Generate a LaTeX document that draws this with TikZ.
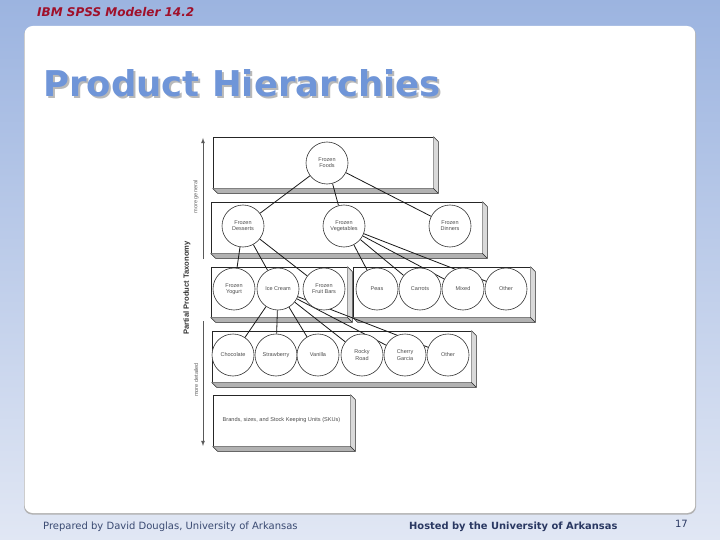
\documentclass[tikz,border=0pt]{standalone}
\usepackage{fontspec}
\setsansfont{Liberation Sans}
\newfontfamily\slidefont{DejaVu Sans}
\usetikzlibrary{positioning,calc}

\definecolor{bgtop}{HTML}{9CB4E0}
\definecolor{bgbot}{HTML}{E1E7F4}
\definecolor{titleblue}{HTML}{6F95D8}
\definecolor{hdrred}{HTML}{A0102A}
\definecolor{footblue}{HTML}{3A4A72}
\definecolor{hostblue}{HTML}{2A3862}

\pgfdeclarelayer{back}
\pgfdeclarelayer{mid}
\pgfsetlayers{back,mid,main}

\tikzset{
  slab/.style={draw=black!85, fill=white, line width=0.7pt, inner sep=0pt},
  cat/.style={circle, draw=black!80, fill=white, line width=0.6pt, minimum size=42pt,
    inner sep=0pt, align=center, text=black!70,
    font=\sffamily\fontsize{5.5}{6.2}\selectfont},
  link/.style={draw=black!90, line width=0.8pt},
  axislabel/.style={rotate=90, text=black!60, font=\sffamily\fontsize{5.6}{6}\selectfont},
}

\begin{document}
\begin{tikzpicture}[x=1pt,y=1pt]
\useasboundingbox (0,0) rectangle (720,-540);

% slide
\begin{pgfonlayer}{back}
\shade[top color=bgtop, bottom color=bgbot] (0,0) rectangle (720,-540);
\fill[gray!60, rounded corners=8pt] (24,-27) rectangle (696,-514.5);
\fill[white, rounded corners=8pt] (24.6,-26) rectangle (695.2,-513);
\end{pgfonlayer}

\node[anchor=base west, inner sep=0, text=hdrred,
  font=\slidefont\bfseries\itshape\fontsize{12}{14}\selectfont] (header) at (37,-17) {IBM SPSS Modeler 14.2};
\node[anchor=base west, inner sep=0, text=gray!55,
  font=\slidefont\bfseries\fontsize{35.5}{40}\selectfont] (titleShadow) at (45,-99) {Product Hierarchies};
\node[anchor=base west, inner sep=0, text=titleblue,
  font=\slidefont\bfseries\fontsize{35.5}{40}\selectfont] (title) at (43,-97) {Product Hierarchies};

\node[anchor=base west, inner sep=0, text=footblue,
  font=\slidefont\fontsize{10}{12}\selectfont] (prepared) at (43,-529) {Prepared by David Douglas, University of Arkansas};
\node[anchor=base west, inner sep=0, text=hostblue,
  font=\slidefont\bfseries\fontsize{9.9}{12}\selectfont] (hosted) at (409,-529) {Hosted by the University of Arkansas};
\node[anchor=base east, inner sep=0, text=hostblue,
  font=\slidefont\fontsize{10}{12}\selectfont] (pageno) at (688,-527) {17};

% levels
\begin{pgfonlayer}{back}
\node[slab, minimum width=220pt, minimum height=51pt] (lvlA) at (323,-162.5) {};
\node[slab, minimum width=271pt, minimum height=51pt] (lvlB) at (346.5,-227.5) {};
\node[slab, minimum width=136pt, minimum height=50pt] (lvlC) at (279,-292) {};
\node[slab, minimum width=177pt, minimum height=50pt] (lvlD) at (441.5,-292) {};
\node[slab, minimum width=259pt, minimum height=51pt] (lvlE) at (341.5,-356.5) {};
\node[slab, minimum width=137pt, minimum height=51pt, text=black!70,
  font=\sffamily\fontsize{5.6}{6}\selectfont] (lvlF) at (281.5,-420.5) {Brands, sizes, and Stock Keeping Units (SKUs)};
\foreach \s in {lvlA,lvlB,lvlC,lvlD,lvlE,lvlF} {
  \fill[gray!30] (\s.north east) -- ++(5,-5) -- ($(\s.south east)+(5,-5)$) -- (\s.south east) -- cycle;
  \fill[gray!60] (\s.south west) -- (\s.south east) -- ++(5,-5) -- ($(\s.south west)+(5,-5)$) -- cycle;
  \draw[black!85, line width=0.6pt] (\s.north east) -- ++(5,-5) -- ($(\s.south east)+(5,-5)$)
    -- ($(\s.south west)+(5,-5)$) -- (\s.south west);
  \draw[black!85, line width=0.6pt] (\s.south east) -- ++(5,-5);
}
\end{pgfonlayer}

% categories
\node[cat] (foods) at (327,-163) {Frozen\\Foods};
\node[cat] (desserts) at (243,-226) {Frozen\\Desserts};
\node[cat] (vegetables) at (344,-226) {Frozen\\Vegetables};
\node[cat] (dinners) at (450,-226) {Frozen\\Dinners};
\node[cat] (yogurt) at (234,-289) {Frozen\\Yogurt};
\node[cat] (icecream) at (278,-289) {Ice Cream};
\node[cat] (fruitbars) at (324,-289) {Frozen\\Fruit Bars};
\node[cat] (peas) at (377,-289) {Peas};
\node[cat] (carrots) at (420,-289) {Carrots};
\node[cat] (mixed) at (463,-289) {Mixed};
\node[cat] (otherveg) at (506,-289) {Other};
\node[cat] (chocolate) at (233,-355) {Chocolate};
\node[cat] (strawberry) at (276,-355) {Strawberry};
\node[cat] (vanilla) at (318,-355) {Vanilla};
\node[cat] (rockyroad) at (362,-355) {Rocky\\Road};
\node[cat] (cherry) at (405,-355) {Cherry\\Garcia};
\node[cat] (othercream) at (448,-355) {Other};

\begin{pgfonlayer}{mid}
\foreach \a/\b in {foods/desserts, foods/vegetables, foods/dinners,
    desserts/yogurt, desserts/icecream, desserts/fruitbars,
    vegetables/peas, vegetables/carrots, vegetables/mixed, vegetables/otherveg,
    icecream/chocolate, icecream/strawberry, icecream/vanilla,
    icecream/rockyroad, icecream/cherry, icecream/othercream}
  \draw[link] (\a) -- (\b);
\end{pgfonlayer}

% taxonomy axis
\coordinate (genTop) at (203,-138);
\coordinate (genEnd) at (203,-259);
\coordinate (detStart) at (203,-321);
\coordinate (detEnd) at (203,-446);
\draw[-latex, black!65, line width=0.8pt] (genEnd) -- (genTop);
\draw[-latex, black!65, line width=0.8pt] (detStart) -- (detEnd);
\node[axislabel] (general) at (196,-197) {more general};
\node[axislabel] (detailed) at (196,-380) {more detailed};
\node[rotate=90, text=black!80, font=\sffamily\bfseries\fontsize{7.6}{9}\selectfont] (taxonomy) at (187,-288) {Partial Product Taxonomy};
\end{tikzpicture}
\end{document}
